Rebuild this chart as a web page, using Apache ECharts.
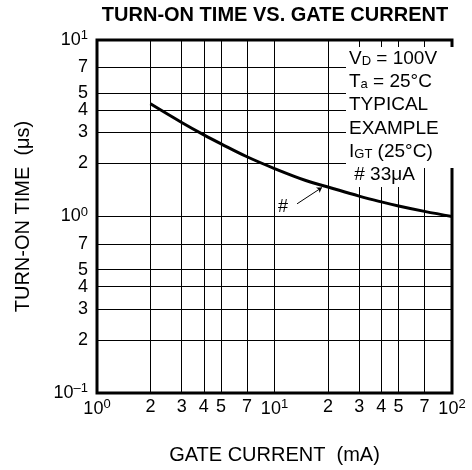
<!DOCTYPE html>
<html>
<head>
<meta charset="utf-8">
<script src="https://cdn.jsdelivr.net/npm/echarts@6.0.0/dist/echarts.min.js"></script>
<style>
  html, body { margin: 0; padding: 0; background: #fff; }
  #main { width: 472px; height: 470px; }
</style>
</head>
<body>
<div id="main"></div>
<script>
// gate current (mA) vs turn-on time (us)
var gateCurrent = [2, 3, 4, 5, 7, 10, 15, 20, 30, 40, 50, 70, 100];
var turnOnTime = [4.35, 3.41, 2.9, 2.58, 2.18, 1.87, 1.6, 1.47, 1.305, 1.21, 1.147, 1.069, 1.0];

// tick labels / grid lines
var xTicks = [1, 2, 3, 4, 5, 7, 10, 20, 30, 40, 50, 70, 100];
var yTicks = [0.1, 0.2, 0.3, 0.4, 0.5, 0.7, 1, 2, 3, 4, 5, 7, 10];

// "#" pointer to the curve
var arrowFrom = [13.4, 1.18];
var arrowTo = [18.5, 1.46];

var font = 'Liberation Sans, Arial, sans-serif';

var curveData = gateCurrent.map(function(x, i) {
	return [x, turnOnTime[i]];
});

function logFmt(v) {
	var e = Math.round(v);
	if (Math.abs(v - e) < 1e-6) {
		return '{b|10}{s|' + (e < 0 ? '\u2013' + (-e) : e) + '}';
	}
	return '{b|' + Math.round(Math.pow(10, v - Math.floor(v))) + '}';
}

var labelRich = {
	b: { fontSize: 18, fontFamily: font, color: '#000' },
	s: { fontSize: 13, fontFamily: font, color: '#000', padding: [0, 0, 9, 0] }
};

var xPos = xTicks.map(function(v) { return Math.log10(v); });
var yPos = yTicks.map(function(v) { return Math.log10(v); });

var myChart = echarts.init(document.getElementById('main'));

var noteRich = {
	n: { fontSize: 19, fontFamily: font, color: '#000' },
	s: { fontSize: 13, fontFamily: font, color: '#000', padding: [5, 0, 0, 0] }
};
var notes = [
	'{n|V}{s|D}{n| = 100V}',
	'{n|T}{s|a}{n| = 25°C}',
	'{n|TYPICAL}',
	'{n|EXAMPLE}',
	'{n|I}{s|GT}{n| (25°C)}',
	'{n| # 33μA}'
];

// white patch behind the notes, hides the grid there
var graphics = [{
	type: 'rect',
	z: 90,
	shape: { x: 346, y: 47, width: 108, height: 121 },
	style: { fill: '#fff' }
}, {
	type: 'rect',
	z: 90,
	shape: { x: 346, y: 167, width: 76, height: 20 },
	style: { fill: '#fff' }
}];
notes.forEach(function(t, i) {
	graphics.push({
		type: 'text',
		left: 349,
		top: 49 + i * 23.3,
		z: 100,
		style: { text: t, rich: noteRich }
	});
});
graphics.push({
	type: 'text',
	left: 278,
	top: 198,
	z: 100,
	style: { text: '#', font: '18px ' + font, fill: '#000' }
});

var option = {
	animation: false,
	backgroundColor: '#fff',
	title: {
		text: 'TURN-ON TIME VS. GATE CURRENT',
		left: 270,
		top: 0,
		textAlign: 'center',
		textStyle: { fontSize: 20, fontWeight: 'bold', fontFamily: font, color: '#000' }
	},
	grid: {
		left: 97,
		right: 20,
		top: 40,
		bottom: 77,
		show: true,
		borderColor: '#000',
		borderWidth: 3,
		z: 3
	},
	xAxis: [{
		type: 'log',
		logBase: 10,
		min: 1,
		max: 100,
		show: false
	}, {
		type: 'value',
		min: 0,
		max: 2,
		position: 'bottom',
		axisLine: { show: false },
		axisTick: { show: false, customValues: xPos },
		axisLabel: {
			customValues: xPos,
			formatter: logFmt,
			rich: labelRich,
			margin: 5
		},
		splitLine: { show: true, lineStyle: { color: '#000', width: 1 } },
		name: 'GATE CURRENT  (mA)',
		nameLocation: 'middle',
		nameGap: 52,
		nameTextStyle: { fontSize: 20, fontFamily: font, color: '#000' }
	}],
	yAxis: [{
		type: 'log',
		logBase: 10,
		min: 0.1,
		max: 10,
		show: false
	}, {
		type: 'value',
		min: -1,
		max: 1,
		position: 'left',
		axisLine: { show: false },
		axisTick: { show: false, customValues: yPos },
		axisLabel: {
			customValues: yPos,
			formatter: logFmt,
			rich: labelRich,
			margin: 9
		},
		splitLine: { show: true, lineStyle: { color: '#000', width: 1 } },
		name: 'TURN-ON TIME  (μs)',
		nameLocation: 'middle',
		nameGap: 64,
		nameTextStyle: { fontSize: 20, fontFamily: font, color: '#000' }
	}],
	series: [{
		type: 'line',
		xAxisIndex: 0,
		yAxisIndex: 0,
		data: curveData,
		smooth: 0.4,
		symbol: 'none',
		lineStyle: { color: '#000', width: 3 },
		z: 5,
		markLine: {
			silent: true,
			symbol: ['none', 'arrow'],
			symbolSize: 5,
			label: { show: false },
			lineStyle: { color: '#000', width: 1, type: 'solid' },
			data: [[{ coord: arrowFrom }, { coord: arrowTo }]]
		}
	}],
	graphic: graphics
};

myChart.setOption(option);
</script>
</body>
</html>
